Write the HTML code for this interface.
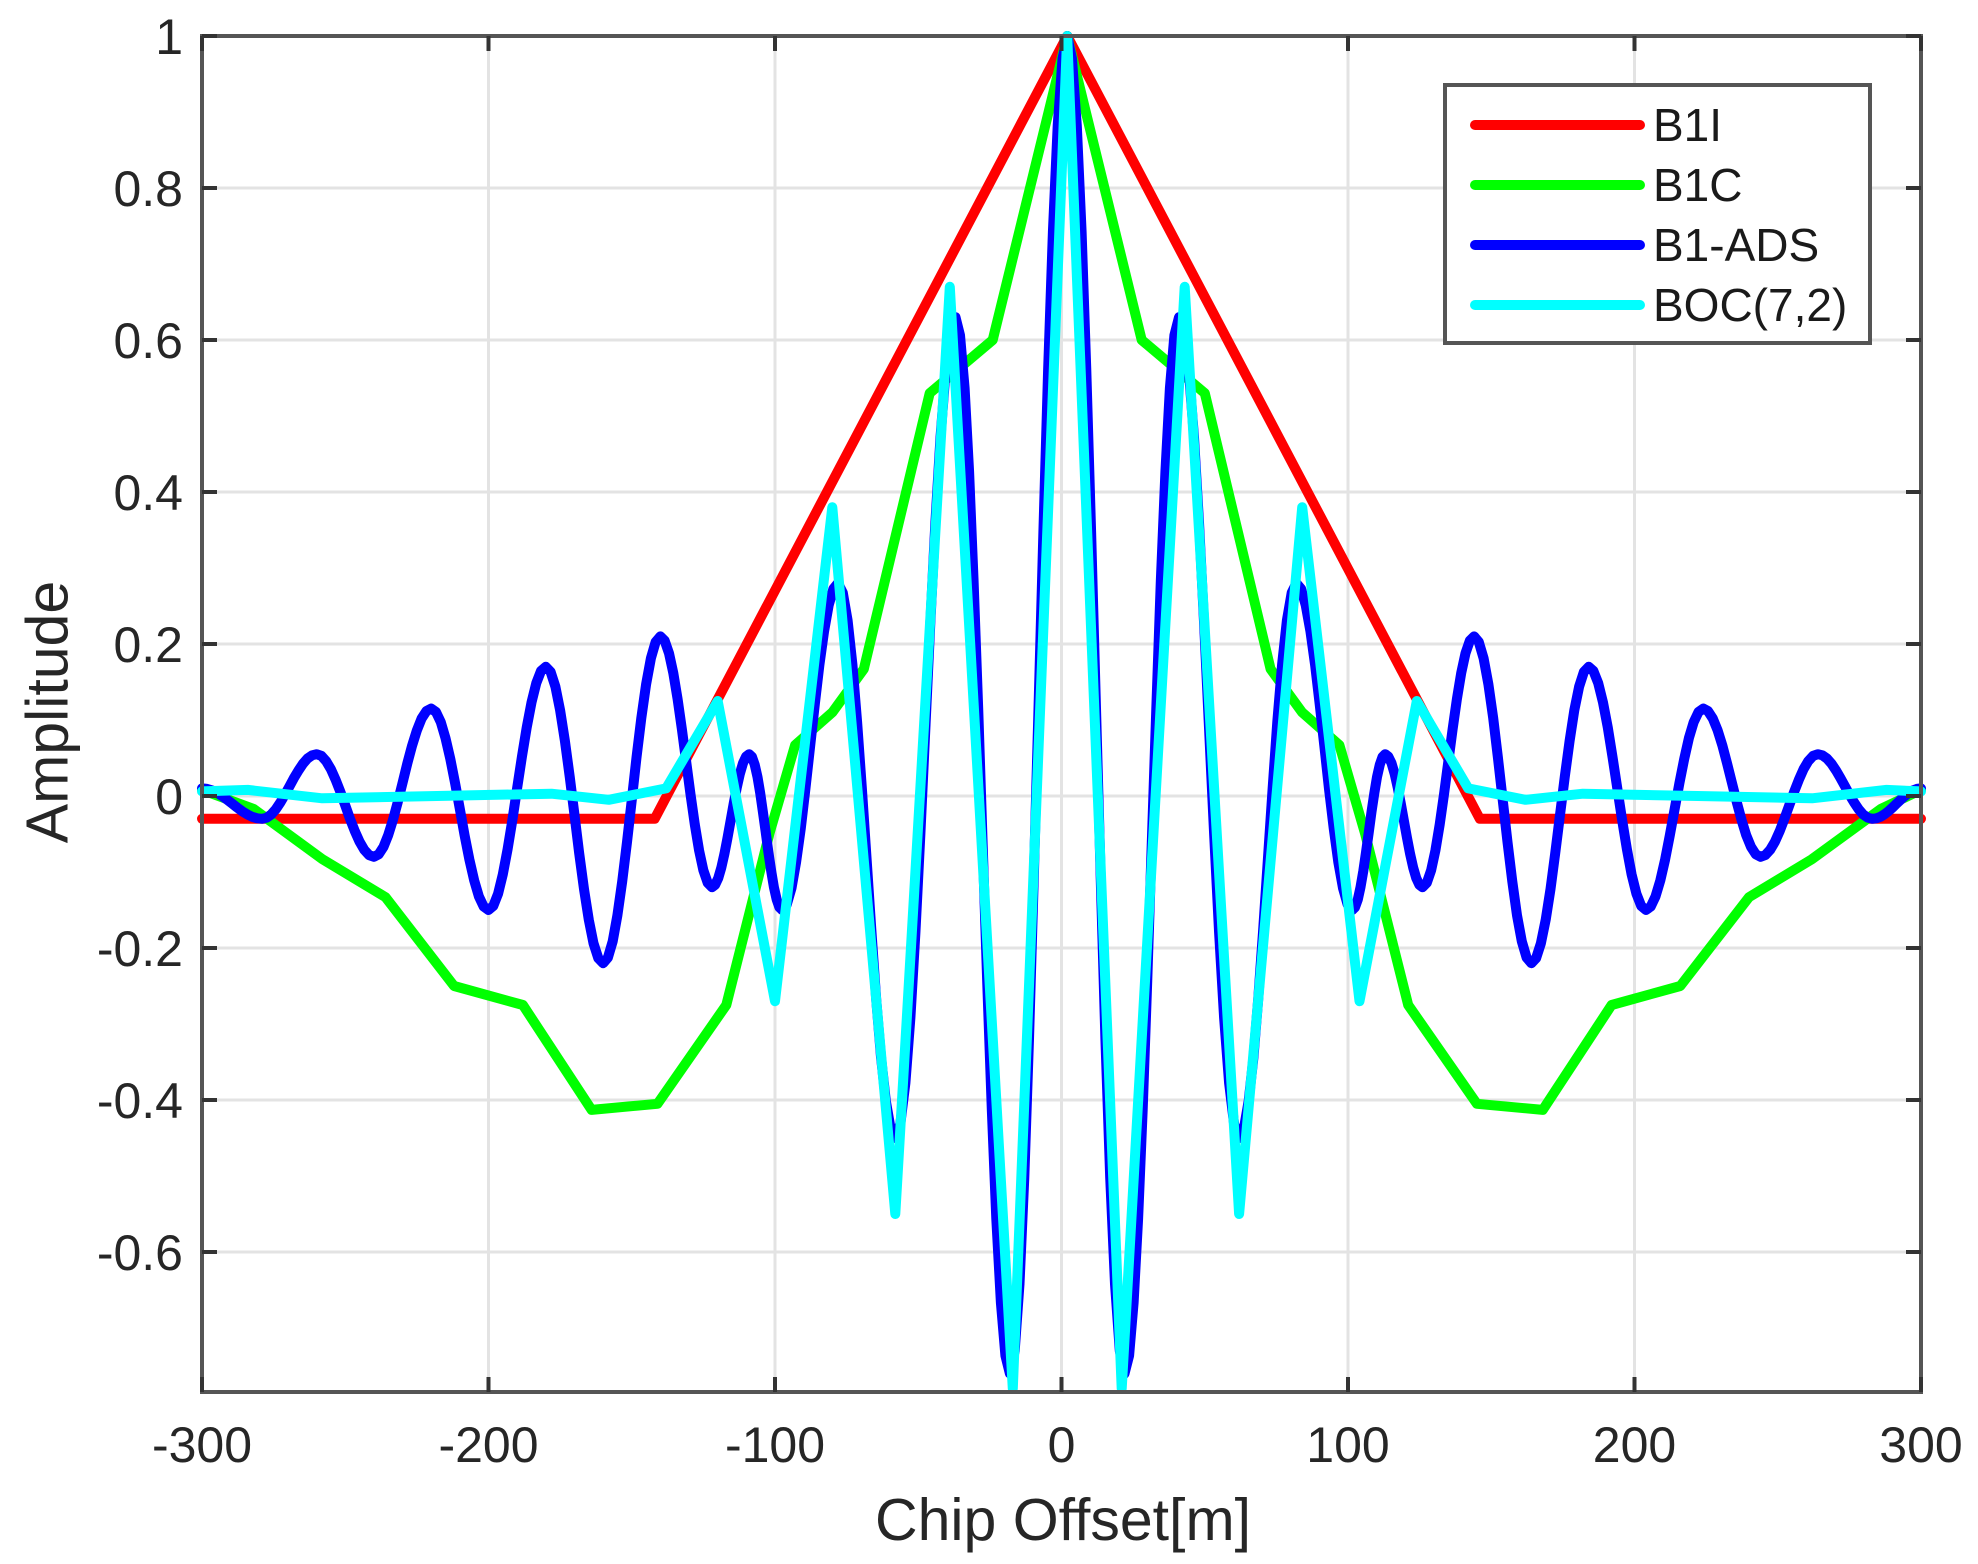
<!DOCTYPE html>
<html><head><meta charset="utf-8"><style>
html,body{margin:0;padding:0;background:#fff;}
svg{display:block;font-family:"Liberation Sans",Arial,sans-serif;}
</style></head><body>
<svg id="s" width="1978" height="1564" viewBox="0 0 1978 1564" xmlns="http://www.w3.org/2000/svg">
<rect width="1978" height="1564" fill="#fff"/>
<g id="grid" stroke="#e3e3e3" stroke-width="3"></g>
<g id="series" fill="none" stroke-width="10" stroke-linejoin="round" stroke-linecap="round"></g>
<rect x="202" y="36" width="1719" height="1356" fill="none" stroke="#555" stroke-width="4"/>
<g id="ticks" stroke="#333" stroke-width="4"></g>
<g id="labels" fill="#262626" font-size="50"></g>
<text x="52" y="712" font-size="59" fill="#262626" text-anchor="middle" transform="rotate(-90 52 712)" dominant-baseline="middle">Amplitude</text>
<text x="1063" y="1540" font-size="59" fill="#262626" text-anchor="middle">Chip Offset[m]</text>
<g>
<rect x="1445" y="85" width="425" height="258" fill="#fff" stroke="#555" stroke-width="4"/>
<line x1="1475" y1="125" x2="1640" y2="125" stroke="#ff0000" stroke-width="10" stroke-linecap="round"/>
<line x1="1475" y1="185" x2="1640" y2="185" stroke="#00ff00" stroke-width="10" stroke-linecap="round"/>
<line x1="1475" y1="245" x2="1640" y2="245" stroke="#0000ff" stroke-width="10" stroke-linecap="round"/>
<line x1="1475" y1="305" x2="1640" y2="305" stroke="#00ffff" stroke-width="10" stroke-linecap="round"/>
<g font-size="46" fill="#1a1a1a">
<text x="1653" y="141">B1I</text>
<text x="1653" y="201">B1C</text>
<text x="1653" y="261">B1-ADS</text>
<text x="1653" y="321">BOC(7,2)</text>
</g>
</g>
</svg>
<script>
var NS="http://www.w3.org/2000/svg";
function X(x){return 202+(x+300)*1719/600;}
function Y(y){return 36+(1-y)*760;}
function el(p,t,a,txt){var e=document.createElementNS(NS,t);for(var k in a)e.setAttribute(k,a[k]);if(txt!==undefined)e.textContent=txt;document.getElementById(p).appendChild(e);return e;}
var yt=[1,0.8,0.6,0.4,0.2,0,-0.2,-0.4,-0.6];
yt.forEach(function(v){var y=Y(v);
 if(v<1)el("grid","line",{x1:202,x2:1921,y1:y,y2:y});
 el("ticks","line",{x1:202,x2:217,y1:y,y2:y});el("ticks","line",{x1:1906,x2:1921,y1:y,y2:y});
 el("labels","text",{x:183,y:y+18,"text-anchor":"end"},String(v));});
for(var v=-300;v<=300;v+=100){var x=X(v);
 if(v>-300&&v<300)el("grid","line",{x1:x,x2:x,y1:36,y2:1392});
 el("ticks","line",{x1:x,x2:x,y1:1392,y2:1377});el("ticks","line",{x1:x,x2:x,y1:36,y2:51});
 el("labels","text",{x:x,y:1462,"text-anchor":"middle"},String(v));}
var C=2;
function sym(pts){var out=[];for(var i=pts.length-1;i>0;i--)out.push([C-pts[i][0],pts[i][1]]);pts.forEach(function(p){out.push([C+p[0],p[1]]);});return out;}
function lin(pts){return pts.map(function(p,i){return (i?"L":"M")+X(p[0]).toFixed(1)+" "+Y(p[1]).toFixed(1);}).join("");}
function cosi(pts){var d="M"+X(pts[0][0])+" "+Y(pts[0][1]);for(var i=0;i<pts.length-1;i++){var a=pts[i],b=pts[i+1];for(var k=1;k<=12;k++){var t=k/12,w=(1-Math.cos(Math.PI*t))/2;var x=a[0]+(b[0]-a[0])*t,y=a[1]+(b[1]-a[1])*w;d+="L"+X(x).toFixed(1)+" "+Y(y).toFixed(1);}}return d;}
function clip(pts){return pts.map(function(p){return [Math.max(-300,Math.min(300,p[0])),p[1]];});}
var red=clip(sym([[0,1],[144,-0.03],[302,-0.03]]));
var green=clip(sym([[0,1],[26,0.6],[48,0.53],[71,0.167],[82,0.11],[95,0.067],[104,-0.05],[119,-0.275],[143,-0.405],[166,-0.413],[190,-0.275],[214,-0.25],[238,-0.133],[260,-0.083],[284,-0.017],[302,0.008]]));
var blue=clip(sym([[0,1],[20,-0.76],[39,0.63],[60,-0.45],[80,0.28],[99.5,-0.15],[111,0.055],[124,-0.12],[142,0.21],[162,-0.22],[182,0.17],[202,-0.15],[222,0.115],[242,-0.08],[262,0.055],[281,-0.03],[302,0.01]]));
var cyan=clip(sym([[0,1],[19,-0.78],[41,0.67],[60,-0.55],[82,0.38],[102,-0.27],[122,0.125],[140,0.01],[160,-0.005],[180,0.003],[220,0],[260,-0.003],[286,0.008],[302,0.006]]));
el("series","path",{d:lin(red),stroke:"#ff0000"});
el("series","path",{d:lin(green),stroke:"#00ff00"});
el("series","path",{d:cosi(blue),stroke:"#0000ff"});
el("series","path",{d:lin(cyan),stroke:"#00ffff"});
</script>
</body></html>
